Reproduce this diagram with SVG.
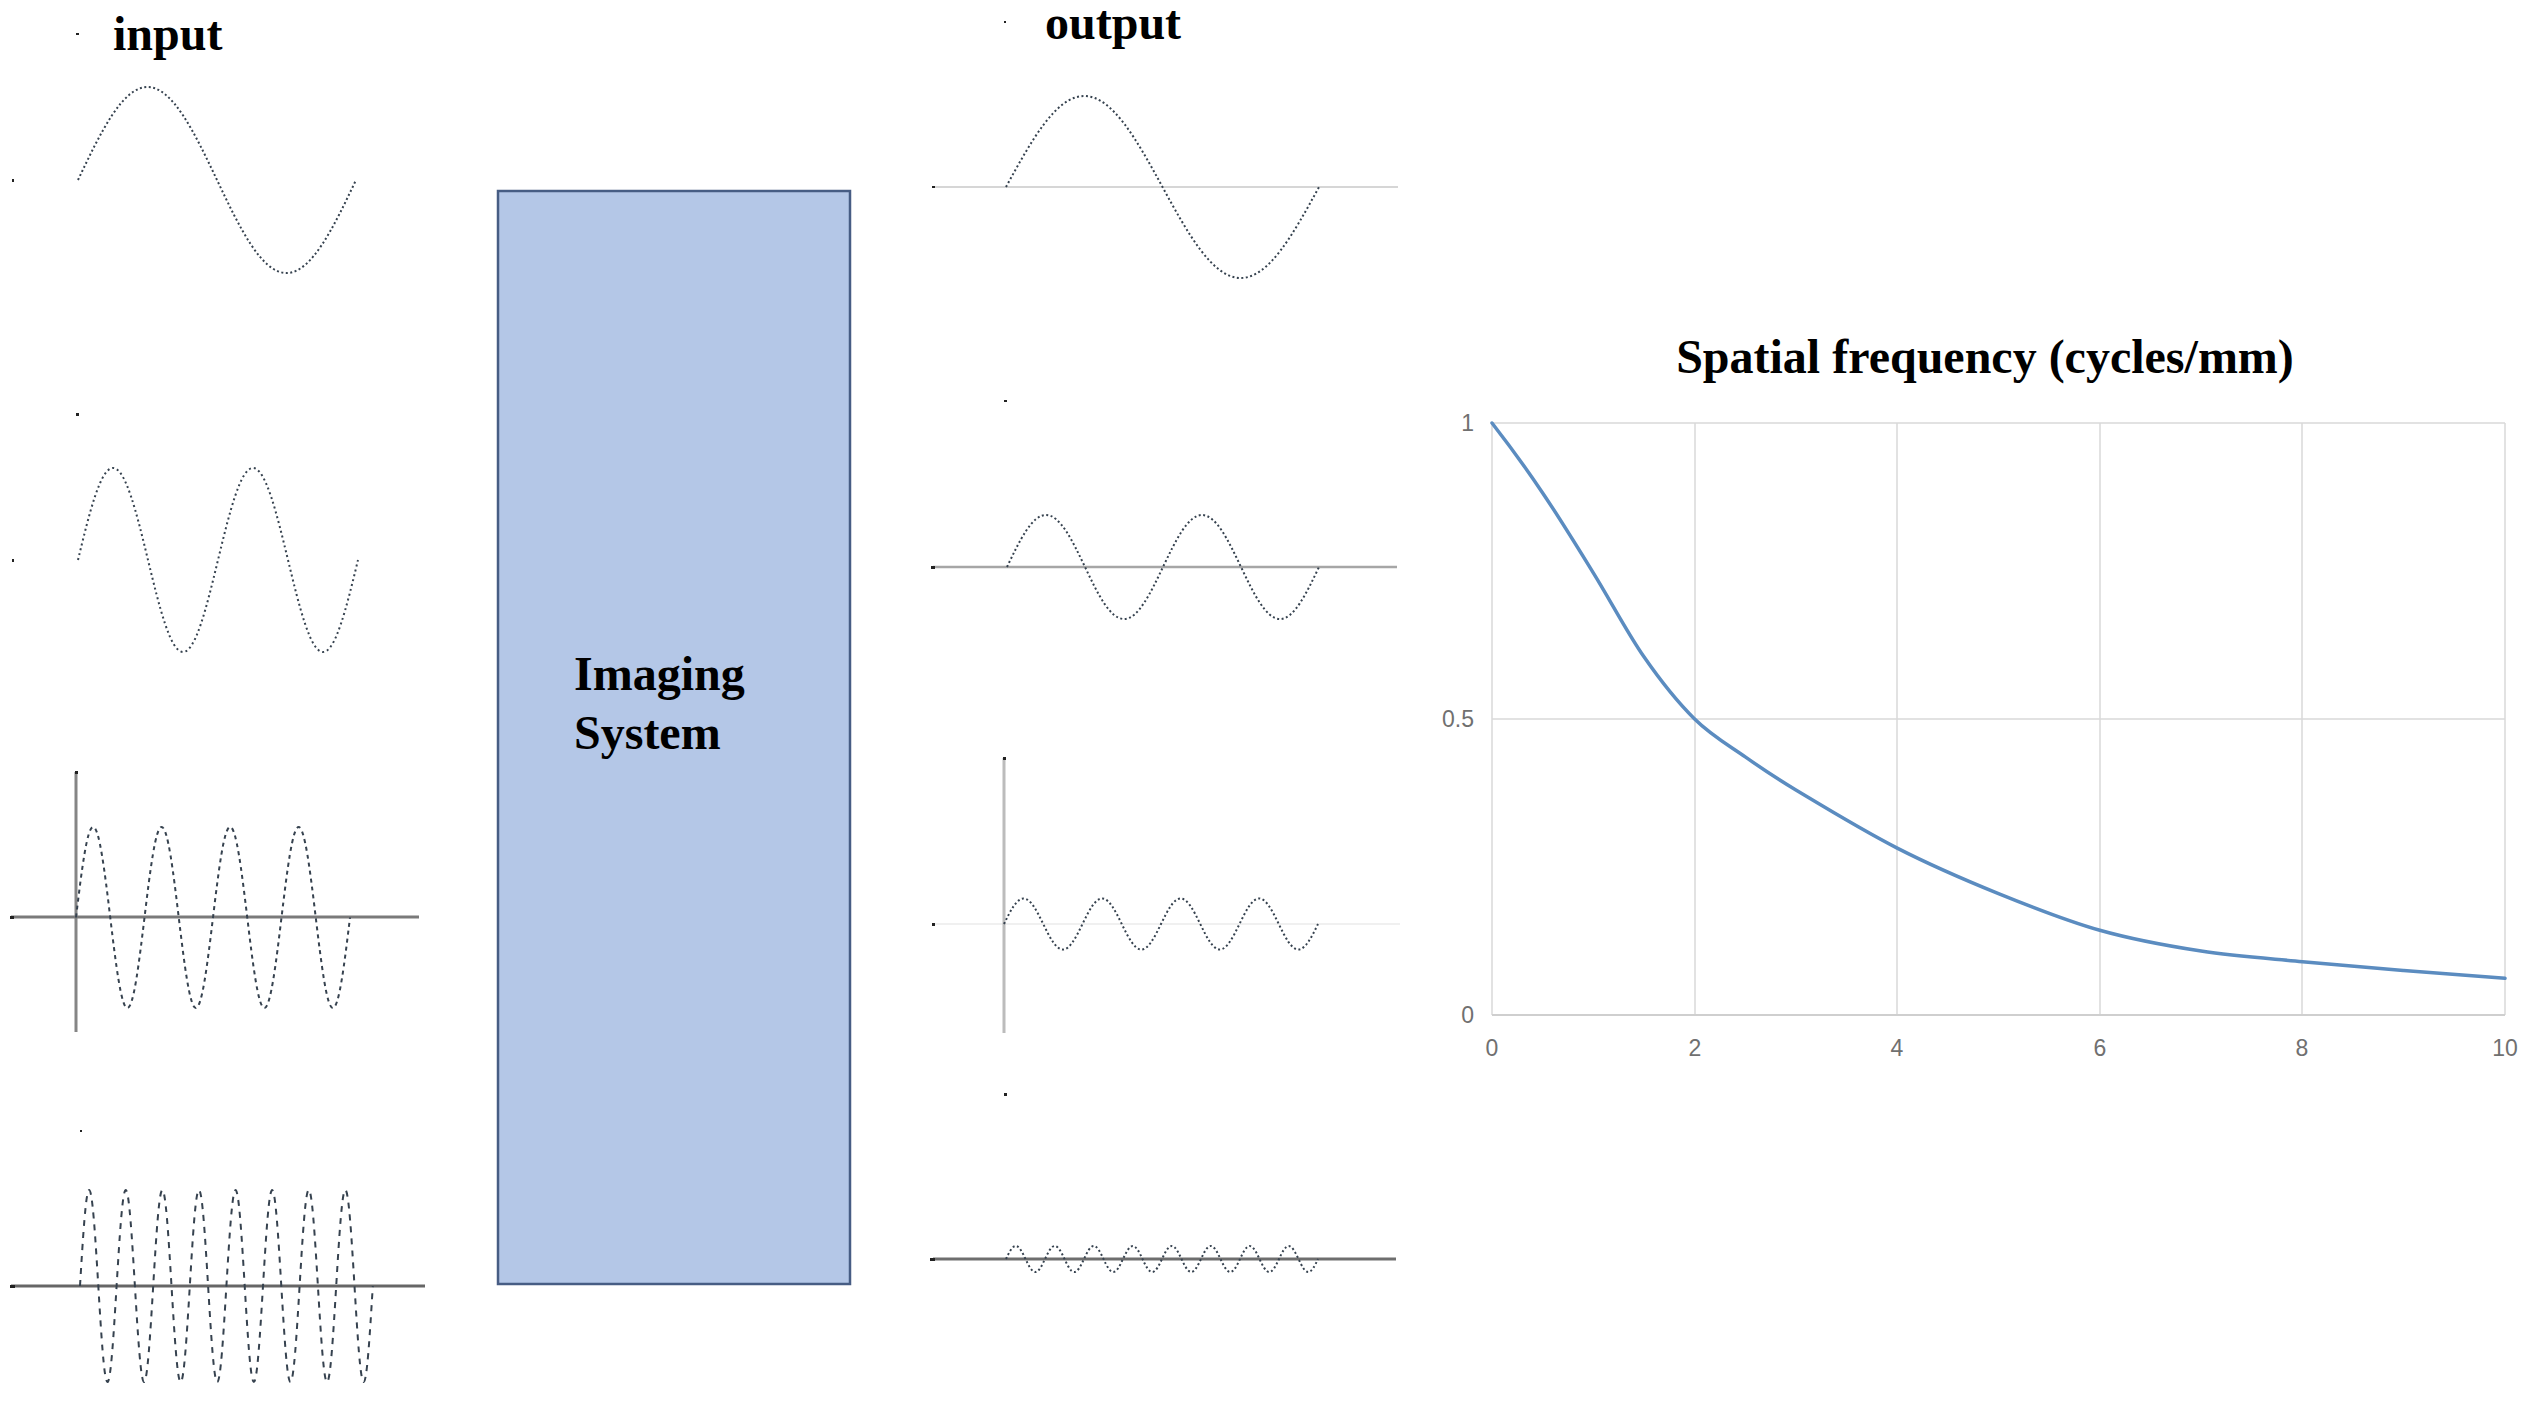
<svg xmlns="http://www.w3.org/2000/svg" width="2529" height="1403" viewBox="0 0 2529 1403">
<style>
.title{font-family:"Liberation Serif","Times New Roman",serif;font-weight:bold;font-size:48px;fill:#000}
.wave{fill:none;stroke:#36424f;stroke-width:2}
.tick{fill:#222}
.grid{stroke:#d9d9d9;stroke-width:1.5;fill:none}
.lbl{font-family:"Liberation Sans",Arial,sans-serif;font-size:23px;fill:#707070}
</style>
<rect width="2529" height="1403" fill="#fff"/>

<g id="input-label">
<text class="title" x="113" y="50">input</text>
<rect class="tick" x="76" y="33" width="3" height="2"/>
</g>

<g id="input-1">
<rect class="tick" x="12" y="179" width="2" height="3"/>
<path class="wave" stroke-dasharray="2 2.5" d="M78,180 c22.66,-47.64 44.35,-93 69.5,-93 c25.15,0 46.84,45.36 69.5,93 c22.66,47.64 44.35,93 69.5,93 c25.15,0 46.84,-45.36 69.5,-93"/>
</g>

<g id="input-2">
<rect class="tick" x="76" y="413" width="3" height="3"/>
<rect class="tick" x="12" y="559" width="2" height="3"/>
<path class="wave" stroke-dasharray="2 3" d="M78,560 c11.41,-47.13 22.33,-92 35,-92 c12.67,0 23.59,44.87 35,92 c11.41,47.13 22.33,92 35,92 c12.67,0 23.59,-44.87 35,-92 c11.41,-47.13 22.33,-92 35,-92 c12.67,0 23.59,44.87 35,92 c11.41,47.13 22.33,92 35,92 c12.67,0 23.59,-44.87 35,-92"/>
</g>

<g id="input-3">
<line x1="76" y1="772" x2="76" y2="1032" stroke="#858585" stroke-width="3"/>
<line x1="11" y1="917" x2="419" y2="917" stroke="#7a7a7a" stroke-width="3"/>
<rect class="tick" x="10" y="916" width="4" height="3"/>
<rect class="tick" x="75" y="771" width="3" height="3"/>
<path class="wave" stroke-dasharray="4 4" d="M76,917.5 c5.585,-46.36 10.928,-90.5 17.125,-90.5 c6.198,0 11.541,44.14 17.125,90.5 c5.585,46.36 10.928,90.5 17.125,90.5 c6.198,0 11.541,-44.14 17.125,-90.5 c5.585,-46.36 10.928,-90.5 17.125,-90.5 c6.198,0 11.541,44.14 17.125,90.5 c5.585,46.36 10.928,90.5 17.125,90.5 c6.198,0 11.541,-44.14 17.125,-90.5 c5.585,-46.36 10.928,-90.5 17.125,-90.5 c6.198,0 11.541,44.14 17.125,90.5 c5.585,46.36 10.928,90.5 17.125,90.5 c6.198,0 11.541,-44.14 17.125,-90.5 c5.585,-46.36 10.928,-90.5 17.125,-90.5 c6.198,0 11.541,44.14 17.125,90.5 c5.585,46.36 10.928,90.5 17.125,90.5 c6.198,0 11.541,-44.14 17.125,-90.5"/>
</g>

<g id="input-4">
<rect class="tick" x="80" y="1130" width="2" height="2"/>
<line x1="11" y1="1286" x2="425" y2="1286" stroke="#666" stroke-width="3"/>
<rect class="tick" x="10" y="1285" width="5" height="3"/>
<path class="wave" stroke-dasharray="6 6" d="M80,1286 c2.984,-49.18 5.839,-96 9.15,-96 c3.311,0 6.166,46.82 9.15,96 c2.984,49.18 5.839,96 9.15,96 c3.311,0 6.166,-46.82 9.15,-96 c2.984,-49.18 5.839,-96 9.15,-96 c3.311,0 6.166,46.82 9.15,96 c2.984,49.18 5.839,96 9.15,96 c3.311,0 6.166,-46.82 9.15,-96 c2.984,-49.18 5.839,-96 9.15,-96 c3.311,0 6.166,46.82 9.15,96 c2.984,49.18 5.839,96 9.15,96 c3.311,0 6.166,-46.82 9.15,-96 c2.984,-49.18 5.839,-96 9.15,-96 c3.311,0 6.166,46.82 9.15,96 c2.984,49.18 5.839,96 9.15,96 c3.311,0 6.166,-46.82 9.15,-96 c2.984,-49.18 5.839,-96 9.15,-96 c3.311,0 6.166,46.82 9.15,96 c2.984,49.18 5.839,96 9.15,96 c3.311,0 6.166,-46.82 9.15,-96 c2.984,-49.18 5.839,-96 9.15,-96 c3.311,0 6.166,46.82 9.15,96 c2.984,49.18 5.839,96 9.15,96 c3.311,0 6.166,-46.82 9.15,-96 c2.984,-49.18 5.839,-96 9.15,-96 c3.311,0 6.166,46.82 9.15,96 c2.984,49.18 5.839,96 9.15,96 c3.311,0 6.166,-46.82 9.15,-96 c2.984,-49.18 5.839,-96 9.15,-96 c3.311,0 6.166,46.82 9.15,96 c2.984,49.18 5.839,96 9.15,96 c3.311,0 6.166,-46.82 9.15,-96"/>
</g>

<g id="imaging-system">
<rect x="498" y="191" width="352" height="1093" fill="#b4c7e7" stroke="#475d84" stroke-width="2.5"/>
<text class="title" x="574" y="690">Imaging</text>
<text class="title" x="574" y="749">System</text>
</g>

<g id="output-label">
<text class="title" x="1045" y="39">output</text>
<rect class="tick" x="1004" y="21" width="2" height="2"/>
</g>

<g id="output-1">
<line x1="933" y1="187" x2="1398" y2="187" stroke="#d6d6d6" stroke-width="2"/>
<rect class="tick" x="932" y="186" width="3" height="2"/>
<path class="wave" stroke-dasharray="2 2.5" d="M1006,187 c25.52,-46.62 49.93,-91 78.25,-91 c28.32,0 52.73,44.38 78.25,91 c25.52,46.62 49.93,91 78.25,91 c28.32,0 52.73,-44.38 78.25,-91"/>
</g>

<g id="output-2">
<rect class="tick" x="1004" y="400" width="3" height="2"/>
<line x1="933" y1="567" x2="1397" y2="567" stroke="#a6a6a6" stroke-width="2.5"/>
<rect class="tick" x="931" y="566" width="4" height="3"/>
<path class="wave" stroke-dasharray="2 2.5" d="M1007,567 c12.72,-26.64 24.89,-52 39,-52 c14.11,0 26.28,25.36 39,52 c12.72,26.64 24.89,52 39,52 c14.11,0 26.28,-25.36 39,-52 c12.72,-26.64 24.89,-52 39,-52 c14.11,0 26.28,25.36 39,52 c12.72,26.64 24.89,52 39,52 c14.11,0 26.28,-25.36 39,-52"/>
</g>

<g id="output-3">
<line x1="933" y1="924" x2="1400" y2="924" stroke="#f0f0f0" stroke-width="2"/>
<line x1="1004" y1="758" x2="1004" y2="1033" stroke="#bcbcbc" stroke-width="3"/>
<rect class="tick" x="1003" y="757" width="3" height="3"/>
<rect class="tick" x="932" y="923" width="3" height="3"/>
<path class="wave" stroke-dasharray="2 2.5" d="M1004,924 c6.40,-13.06 12.52,-25.5 19.625,-25.5 c7.10,0 13.23,12.44 19.625,25.5 c6.40,13.06 12.52,25.5 19.625,25.5 c7.10,0 13.23,-12.44 19.625,-25.5 c6.40,-13.06 12.52,-25.5 19.625,-25.5 c7.10,0 13.23,12.44 19.625,25.5 c6.40,13.06 12.52,25.5 19.625,25.5 c7.10,0 13.23,-12.44 19.625,-25.5 c6.40,-13.06 12.52,-25.5 19.625,-25.5 c7.10,0 13.23,12.44 19.625,25.5 c6.40,13.06 12.52,25.5 19.625,25.5 c7.10,0 13.23,-12.44 19.625,-25.5 c6.40,-13.06 12.52,-25.5 19.625,-25.5 c7.10,0 13.23,12.44 19.625,25.5 c6.40,13.06 12.52,25.5 19.625,25.5 c7.10,0 13.23,-12.44 19.625,-25.5"/>
</g>

<g id="output-4">
<rect class="tick" x="1004" y="1093" width="3" height="3" fill="#555"/>
<line x1="933" y1="1259" x2="1396" y2="1259" stroke="#6e6e6e" stroke-width="3"/>
<rect class="tick" x="930" y="1258" width="5" height="3"/>
<path class="wave" stroke-dasharray="2 2.5" d="M1006,1259 c3.18,-6.66 6.22,-13 9.75,-13 c3.53,0 6.57,6.34 9.75,13 c3.18,6.66 6.22,13 9.75,13 c3.53,0 6.57,-6.34 9.75,-13 c3.18,-6.66 6.22,-13 9.75,-13 c3.53,0 6.57,6.34 9.75,13 c3.18,6.66 6.22,13 9.75,13 c3.53,0 6.57,-6.34 9.75,-13 c3.18,-6.66 6.22,-13 9.75,-13 c3.53,0 6.57,6.34 9.75,13 c3.18,6.66 6.22,13 9.75,13 c3.53,0 6.57,-6.34 9.75,-13 c3.18,-6.66 6.22,-13 9.75,-13 c3.53,0 6.57,6.34 9.75,13 c3.18,6.66 6.22,13 9.75,13 c3.53,0 6.57,-6.34 9.75,-13 c3.18,-6.66 6.22,-13 9.75,-13 c3.53,0 6.57,6.34 9.75,13 c3.18,6.66 6.22,13 9.75,13 c3.53,0 6.57,-6.34 9.75,-13 c3.18,-6.66 6.22,-13 9.75,-13 c3.53,0 6.57,6.34 9.75,13 c3.18,6.66 6.22,13 9.75,13 c3.53,0 6.57,-6.34 9.75,-13 c3.18,-6.66 6.22,-13 9.75,-13 c3.53,0 6.57,6.34 9.75,13 c3.18,6.66 6.22,13 9.75,13 c3.53,0 6.57,-6.34 9.75,-13 c3.18,-6.66 6.22,-13 9.75,-13 c3.53,0 6.57,6.34 9.75,13 c3.18,6.66 6.22,13 9.75,13 c3.53,0 6.57,-6.34 9.75,-13"/>
</g>

<g id="mtf-chart">
<text class="title" x="1985" y="373" text-anchor="middle">Spatial frequency (cycles/mm)</text>
<g>
<line class="grid" x1="1492" y1="423" x2="2505" y2="423"/>
<line class="grid" x1="1492" y1="719" x2="2505" y2="719"/>
<line class="grid" x1="1492" y1="423" x2="1492" y2="1015"/>
<line class="grid" x1="1695" y1="423" x2="1695" y2="1015"/>
<line class="grid" x1="1897" y1="423" x2="1897" y2="1015"/>
<line class="grid" x1="2100" y1="423" x2="2100" y2="1015"/>
<line class="grid" x1="2302" y1="423" x2="2302" y2="1015"/>
<line class="grid" x1="2505" y1="423" x2="2505" y2="1015"/>
<line x1="1492" y1="1015" x2="2505" y2="1015" stroke="#cfcfcf" stroke-width="2"/>
</g>
<g>
<text class="lbl" x="1474" y="431" text-anchor="end">1</text>
<text class="lbl" x="1474" y="727" text-anchor="end">0.5</text>
<text class="lbl" x="1474" y="1023" text-anchor="end">0</text>
<text class="lbl" x="1492" y="1056" text-anchor="middle">0</text>
<text class="lbl" x="1695" y="1056" text-anchor="middle">2</text>
<text class="lbl" x="1897" y="1056" text-anchor="middle">4</text>
<text class="lbl" x="2100" y="1056" text-anchor="middle">6</text>
<text class="lbl" x="2302" y="1056" text-anchor="middle">8</text>
<text class="lbl" x="2505" y="1056" text-anchor="middle">10</text>
</g>
<path fill="none" stroke="#5b8cc0" stroke-width="3.5" stroke-linecap="round" d="M1492,423 C1508.88,444.71 1525.77,467.94 1542.65,492.9 C1559.53,517.86 1576.42,545.47 1593.3,572.8 C1610.18,600.13 1627.07,632.43 1643.95,656.8 C1660.83,681.17 1677.72,702.32 1694.6,719 C1711.48,735.68 1728.37,745.06 1745.25,756.9 C1762.13,768.74 1779.02,779.87 1795.9,790 C1829.67,810.27 1863.43,830.83 1897.2,848.1 C1930.97,865.37 1964.73,879.89 1998.5,893.6 C2032.27,907.31 2066.03,920.73 2099.8,930.3 C2133.57,939.87 2167.33,945.87 2201.1,951.1 C2234.87,956.33 2268.63,958.44 2302.4,961.7 C2336.17,964.96 2369.93,967.84 2403.7,970.6 C2437.47,973.36 2471.23,975.73 2505,978.3"/>
</g>

<g id="connectors"></g>
</svg>
